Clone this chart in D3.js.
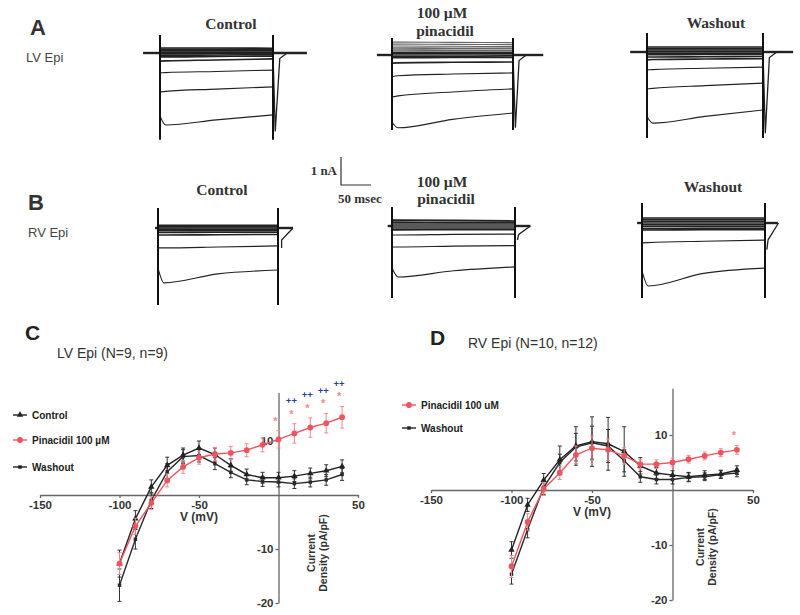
<!DOCTYPE html>
<html><head><meta charset="utf-8">
<script src="https://cdn.jsdelivr.net/npm/d3@7"></script>
<style>body{margin:0;background:#fff}svg{display:block}</style>
</head><body><svg id="chart" width="800" height="615"></svg>
<script>
// ---------------- DATA ----------------
// I-V curves (mV vs pA/pF)
const ivVoltages = [-100,-90,-80,-70,-60,-50,-40,-30,-20,-10,0,10,20,30,40];
const xTickValues = [-150,-100,-50,50];
const yTickValues = [10,-10,-20];

const lvControl      = [-12.7,-4.4,1.5,5.5,7.4,8.7,7.5,5.5,3.8,3.2,3.2,3.5,4.0,4.5,5.3];
const lvControlErr   = [2.5,1.5,1.3,1.5,1.3,1.3,1.2,1.2,1.0,1.0,1.0,1.0,1.0,1.1,1.2];
const lvPinacidil    = [-12.7,-5.8,-1.5,2.7,5.2,6.9,7.6,7.8,8.3,9.3,10.3,11.4,12.5,13.3,14.4];
const lvPinacidilErr = [2.0,1.5,1.2,1.2,1.2,1.2,1.2,1.2,1.2,1.3,1.6,1.8,1.8,1.8,2.0];
const lvWashout      = [-16.7,-8.2,-1.0,4.3,7.1,7.3,5.8,4.2,2.8,2.5,2.4,2.1,2.4,2.8,3.8];
const lvWashoutErr   = [3.0,1.8,1.5,1.5,1.3,1.2,1.1,1.0,0.9,0.9,0.9,0.9,0.9,1.0,1.1];
const lvStarVoltages = [0,10,20,30,40];
const lvPlusVoltages = [10,20,30,40];

const rvControl      = [-10.9,-2.7,1.8,5.5,8.0,8.8,8.4,7.0,4.4,3.1,2.7,2.4,2.7,2.9,3.6];
const rvControlErr   = [1.5,1.2,1.2,2.5,3.5,4.5,4.8,4.5,1.5,1.0,0.8,0.8,0.8,0.7,0.8];
const rvPinacidil    = [-13.9,-5.8,0.2,3.1,6.4,7.6,7.3,6.2,4.7,4.7,5.0,5.6,6.2,6.8,7.3];
const rvPinacidilErr = [2.0,1.5,1.2,1.2,1.6,2.2,2.0,1.5,0.9,0.8,0.8,0.7,0.7,0.7,0.8];
const rvWashout      = [-15.3,-7.2,0.5,5.0,7.8,8.6,8.0,5.3,2.4,1.9,1.9,2.3,2.4,2.8,3.1];
const rvWashoutErr   = [1.8,1.5,1.3,1.5,2.5,3.0,3.0,2.0,1.0,0.8,0.8,0.8,0.7,0.7,0.7];
const rvStarVoltages = [40];

// Current traces (ms vs nA), each sweep sampled at sweepTimes
const sweepTimes = [0,10,100,200];
const lvCtrlSweeps = [
  [0.18,0.18,0.18,0.17],[0.13,0.13,0.13,0.13],[0.08,0.08,0.08,0.08],[0.03,0.03,0.03,0.03],
  [-0.03,-0.03,-0.02,-0.02],[-0.08,-0.08,-0.07,-0.06],[-0.14,-0.14,-0.12,-0.11],
  [-0.29,-0.28,-0.25,-0.21],[-0.71,-0.70,-0.66,-0.61],[-1.39,-1.37,-1.29,-1.21],[-2.25,-2.57,-2.39,-2.21]];
const lvPinSweeps = [
  [0.46,0.46,0.45,0.44],[0.39,0.39,0.38,0.37],[0.32,0.32,0.31,0.30],[0.25,0.25,0.24,0.24],[0.18,0.18,0.17,0.17],
  [0.10,0.10,0.10,0.10],[0.04,0.04,0.04,0.04],[-0.04,-0.04,-0.04,-0.03],[-0.10,-0.10,-0.09,-0.09],
  [-0.29,-0.28,-0.26,-0.25],[-0.78,-0.74,-0.68,-0.64],[-1.50,-1.46,-1.32,-1.21],[-2.40,-2.60,-2.30,-2.07]];
const lvWashSweeps = [
  [0.18,0.18,0.18,0.18],[0.12,0.12,0.12,0.12],[0.07,0.07,0.07,0.07],[0.02,0.02,0.02,0.02],
  [-0.04,-0.04,-0.04,-0.04],[-0.10,-0.10,-0.09,-0.09],[-0.18,-0.18,-0.17,-0.16],
  [-0.28,-0.27,-0.25,-0.24],[-0.64,-0.63,-0.58,-0.54],[-1.32,-1.30,-1.20,-1.11],[-2.30,-2.54,-2.30,-2.07]];
const rvCtrlSweeps = [
  [0.10,0.10,0.10,0.10],[0.05,0.05,0.05,0.05],[0.0,0.0,0.0,0.0],[-0.05,-0.05,-0.05,-0.05],
  [-0.10,-0.10,-0.10,-0.10],[-0.16,-0.16,-0.15,-0.15],[-0.25,-0.25,-0.24,-0.23],
  [-0.71,-0.71,-0.68,-0.64],[-1.43,-1.96,-1.64,-1.50]];
const rvPinSweeps = [
  [0.21,0.21,0.20,0.18],[0.14,0.14,0.13,0.13],[0.07,0.07,0.07,0.07],[0.0,0.0,0.0,0.0],
  [-0.07,-0.07,-0.07,-0.07],[-0.14,-0.14,-0.13,-0.13],[-0.32,-0.32,-0.30,-0.29],
  [-0.75,-0.75,-0.72,-0.70],[-1.50,-1.82,-1.60,-1.46]];
const rvWashSweeps = [
  [0.18,0.18,0.18,0.18],[0.12,0.12,0.12,0.12],[0.06,0.06,0.06,0.06],[0.0,0.0,0.0,0.0],
  [-0.06,-0.06,-0.06,-0.06],[-0.12,-0.12,-0.12,-0.12],[-0.20,-0.20,-0.19,-0.19],[-0.25,-0.25,-0.24,-0.24],
  [-0.71,-0.70,-0.65,-0.61],[-1.70,-2.25,-1.80,-1.61]];
// capacitive transient extents [top, bottom] nA
const lvCtrlCap = [0.64,-3.10], lvPinCap = [0.61,-2.68], lvWashCap = [0.68,-3.07];
const rvCtrlCap = [0.71,-2.75], rvPinCap = [0.68,-2.57], rvWashCap = [0.71,-2.68];
// holding range [start, end] ms
const lvCtrlHold = [-30,260], lvPinHold = [-25,250], lvWashHold = [-29,252];
const rvCtrlHold = [-5,225], rvPinHold = [-7,225], rvWashHold = [-8,221];
// tail currents [ms, nA]
const lvCtrlTail = [[200,0],[204,-2.8],[212,-0.2],[225,0]];
const lvPinTail  = [[200,0],[204,-2.6],[210,-0.2],[222,0]];
const lvWashTail = [[200,0],[204,-2.9],[211,-0.2],[224,0]];
const rvCtrlTail = [[225,0],[206,-0.43],[206,-0.71]];
const rvPinTail  = [[225,0],[206,-0.30],[204,-0.50]];
const rvWashTail = [[222,0],[205,-0.60],[203,-0.95]];

// ---------------- DRAW ----------------
const svg = d3.select("#chart");
const PX_PER_NA = 28, PX_PER_MS = 0.6;
const sans = "'Liberation Sans', Arial, sans-serif";
const serif = "'Liberation Serif', 'Times New Roman', serif";

function txt(x,y,s,opts={}){
  const t = svg.append("text").attr("x",x).attr("y",y).text(s)
    .attr("font-family",opts.family||sans).attr("font-size",opts.size||12)
    .attr("font-weight",opts.weight||"normal").attr("fill",opts.fill||"#222")
    .attr("text-anchor",opts.anchor||"start");
  return t;
}

// Trace panels
const tracePanels = [
  {sweeps:lvCtrlSweeps, cap:lvCtrlCap, hold:lvCtrlHold, tail:lvCtrlTail, x0:160, x1:273, base:53, nUpper:0},
  {sweeps:lvPinSweeps,  cap:lvPinCap,  hold:lvPinHold,  tail:lvPinTail,  x0:392, x1:513, base:55, nUpper:5},
  {sweeps:lvWashSweeps, cap:lvWashCap, hold:lvWashHold, tail:lvWashTail, x0:647, x1:763, base:52, nUpper:0},
  {sweeps:rvCtrlSweeps, cap:rvCtrlCap, hold:rvCtrlHold, tail:rvCtrlTail, x0:158, x1:278, base:228, nUpper:0},
  {sweeps:rvPinSweeps,  cap:rvPinCap,  hold:rvPinHold,  tail:rvPinTail,  x0:392, x1:515, base:226, nUpper:0},
  {sweeps:rvWashSweeps, cap:rvWashCap, hold:rvWashHold, tail:rvWashTail, x0:642, x1:765, base:223, nUpper:0}
];
tracePanels.forEach(p=>{
  const g = svg.append("g");
  const x = d3.scaleLinear().domain([0,200]).range([p.x0,p.x1]);
  const y = d3.scaleLinear().domain([0,-1]).range([p.base,p.base+PX_PER_NA]);
  const line = d3.line().x(d=>x(d[0])).y(d=>y(d[1])).curve(d3.curveMonotoneX);
  g.append("path").attr("d",d3.line()([[x(p.hold[0]),y(0)],[x(0),y(0)]])).attr("stroke","#222").attr("stroke-width",2.4).attr("fill","none");
  g.append("path").attr("d",d3.line()([[x(200),y(0)],[x(p.hold[1]),y(0)]])).attr("stroke","#222").attr("stroke-width",2.4).attr("fill","none");
  p.sweeps.forEach((s,i)=>{
    g.append("path").attr("d",line(sweepTimes.map((t,j)=>[t,s[j]])))
      .attr("fill","none").attr("stroke", i<p.nUpper?"#666":"#222")
      .attr("stroke-width", Math.abs(s[0])<0.3?1.6:1.1);
  });
  g.append("path").attr("d",d3.line().x(d=>x(d[0])).y(d=>y(d[1]))(p.tail))
    .attr("fill","none").attr("stroke","#222").attr("stroke-width",1.3);
  [0,200].forEach(t=>{
    g.append("line").attr("x1",x(t)).attr("x2",x(t)).attr("y1",y(p.cap[0])).attr("y2",y(p.cap[1]))
      .attr("stroke","#111").attr("stroke-width",2);
  });
});

// Trace titles
txt(30,35,"A",{size:22,weight:"bold",fill:"#333"});
txt(26,62,"LV Epi",{size:13,fill:"#444"});
txt(231,29,"Control",{family:serif,size:15.5,weight:"bold",anchor:"middle",fill:"#333"});
txt(442,18,"100 µM",{family:serif,size:15.5,weight:"bold",anchor:"middle",fill:"#333"});
txt(445,36,"pinacidil",{family:serif,size:15.5,weight:"bold",anchor:"middle",fill:"#333"});
txt(716,28,"Washout",{family:serif,size:15.5,weight:"bold",anchor:"middle",fill:"#333"});
txt(28,210,"B",{size:22,weight:"bold",fill:"#333"});
txt(28,237,"RV Epi",{size:13,fill:"#444"});
txt(222,195,"Control",{family:serif,size:15.5,weight:"bold",anchor:"middle",fill:"#333"});
txt(442,187,"100 µM",{family:serif,size:15.5,weight:"bold",anchor:"middle",fill:"#333"});
txt(446,204,"pinacidil",{family:serif,size:15.5,weight:"bold",anchor:"middle",fill:"#333"});
txt(713,192,"Washout",{family:serif,size:15.5,weight:"bold",anchor:"middle",fill:"#333"});

// Scale bar (1 nA, 50 msec)
{
  const sx = d3.scaleLinear().domain([0,50]).range([341,341+50*PX_PER_MS]);
  const sy = d3.scaleLinear().domain([0,1]).range([185,185-PX_PER_NA]);
  svg.append("path").attr("d",d3.line()([[sx(0),sy(1)],[sx(0),sy(0)],[sx(50),sy(0)]]))
    .attr("fill","none").attr("stroke","#333").attr("stroke-width",1.2);
  txt(337,175,"1 nA",{family:serif,size:13,weight:"bold",anchor:"end",fill:"#333"});
  txt(338,203,"50 msec",{family:serif,size:13,weight:"bold",fill:"#333"});
}

// I-V panels
const RED = "#ec5560", RED_LIGHT = "#f3878e", BLUE = "#2e3f9e";
function drawIV(cfg){
  const g = svg.append("g");
  const x = d3.scaleLinear().domain([-150,50]).range(cfg.xr);
  const y = d3.scaleLinear().domain(cfg.yd).range(cfg.yr);
  const xAxis = d3.axisBottom(x).tickValues(xTickValues).tickFormat(d=>String(d)).tickSize(3).tickSizeOuter(0).tickPadding(3);
  const yAxis = d3.axisLeft(y).tickValues(yTickValues).tickFormat(d=>String(d)).tickSize(3).tickSizeOuter(0).tickPadding(2);
  const gx = g.append("g").attr("transform",`translate(0,${y(0)})`).call(xAxis);
  const gy = g.append("g").attr("transform",`translate(${x(0)},0)`).call(yAxis);
  [gx,gy].forEach(a=>{
    a.selectAll("path,line").attr("stroke","#666").attr("stroke-width",1.3);
    a.selectAll("text").attr("font-family",sans).attr("font-size",11.5).attr("font-weight","bold").attr("fill","#333");
  });
  txt(x(-50),y(0)+26,"V (mV)",{size:12,weight:"bold",anchor:"middle",fill:"#333"});
  const lab = g.append("text").attr("transform",`translate(${x(0)+cfg.labelDx},${cfg.labelY}) rotate(-90)`)
    .attr("font-family",sans).attr("font-size",10.5).attr("font-weight","bold").attr("fill","#333").attr("text-anchor","middle");
  lab.append("tspan").attr("x",0).attr("dy","-0.2em").text("Current");
  lab.append("tspan").attr("x",0).attr("dy","1.15em").text("Density (pA/pF)");

  const line = d3.line().x((d,i)=>x(ivVoltages[i])).y(d=>y(d));
  cfg.series.forEach(s=>{
    const sg = g.append("g");
    s.values.forEach((v,i)=>{
      const xv = x(ivVoltages[i]), e = s.err[i];
      sg.append("line").attr("x1",xv).attr("x2",xv).attr("y1",y(v-e)).attr("y2",y(v+e)).attr("stroke",s.errColor).attr("stroke-width",1);
      [v-e,v+e].forEach(b=>sg.append("line").attr("x1",xv-2).attr("x2",xv+2).attr("y1",y(b)).attr("y2",y(b)).attr("stroke",s.errColor).attr("stroke-width",1));
    });
    sg.append("path").attr("d",line(s.values)).attr("fill","none").attr("stroke",s.color).attr("stroke-width",1.4);
    s.values.forEach((v,i)=>{
      sg.append("path").attr("d",d3.symbol().type(s.marker).size(s.msize)())
        .attr("transform",`translate(${x(ivVoltages[i])},${y(v)})`).attr("fill",s.color);
    });
  });
  const pin = cfg.series.find(s=>s.name==="pin");
  cfg.stars.forEach(v=>{
    const i = ivVoltages.indexOf(v);
    const cy = y(pin.values[i]+pin.err[i]) - 12;
    txt(x(v)-3,cy+6,"*",{size:11,weight:"bold",anchor:"middle",fill:RED_LIGHT});
  });
  cfg.plus.forEach(v=>{
    const i = ivVoltages.indexOf(v);
    const cy = y(pin.values[i]+pin.err[i]) - 23;
    txt(x(v)-3,cy+3.5,"++",{size:9.5,weight:"bold",anchor:"middle",fill:BLUE});
  });
  cfg.legend.forEach((l,k)=>{
    const ly = cfg.legY[k];
    g.append("line").attr("x1",cfg.legX).attr("x2",cfg.legX+14).attr("y1",ly).attr("y2",ly).attr("stroke",l.color).attr("stroke-width",1.4);
    g.append("path").attr("d",d3.symbol().type(l.marker).size(l.msize)()).attr("transform",`translate(${cfg.legX+7},${ly})`).attr("fill",l.color);
    txt(cfg.legX+19,ly+3.5,l.label,{size:10,weight:"bold",fill:"#222"});
  });
}

const serCtrl = (v,e)=>({name:"ctrl",values:v,err:e,color:"#222",errColor:"#333",marker:d3.symbolTriangle,msize:18});
const serWash = (v,e)=>({name:"wash",values:v,err:e,color:"#2a2a2a",errColor:"#333",marker:d3.symbolSquare,msize:12});
const serPin  = (v,e)=>({name:"pin",values:v,err:e,color:RED,errColor:RED_LIGHT,marker:d3.symbolCircle,msize:26});

drawIV({
  xr:[40,358], yd:[-20,19], yr:[603,392.4], labelY:553, labelDx:39,
  series:[serWash(lvWashout,lvWashoutErr), serCtrl(lvControl,lvControlErr), serPin(lvPinacidil,lvPinacidilErr)],
  stars:lvStarVoltages, plus:lvPlusVoltages,
  legX:13, legY:[415,440,467],
  legend:[{label:"Control",color:"#222",marker:d3.symbolTriangle,msize:18},
          {label:"Pinacidil 100 µM",color:RED,marker:d3.symbolCircle,msize:26},
          {label:"Washout",color:"#222",marker:d3.symbolSquare,msize:12}]
});
drawIV({
  xr:[431,753], yd:[-20,18.5], yr:[600,388.25], labelY:547, labelDx:34,
  series:[serWash(rvWashout,rvWashoutErr), serCtrl(rvControl,rvControlErr), serPin(rvPinacidil,rvPinacidilErr)],
  stars:rvStarVoltages, plus:[],
  legX:402, legY:[405,428],
  legend:[{label:"Pinacidil 100 uM",color:RED,marker:d3.symbolCircle,msize:26},
          {label:"Washout",color:"#222",marker:d3.symbolSquare,msize:12}]
});

txt(25,340,"C",{size:21,weight:"bold",fill:"#222"});
txt(57,358,"LV Epi (N=9, n=9)",{size:14,fill:"#333"});
txt(430,345,"D",{size:21,weight:"bold",fill:"#222"});
txt(468,348,"RV Epi (N=10, n=12)",{size:14,fill:"#333"});
</script></body></html>
